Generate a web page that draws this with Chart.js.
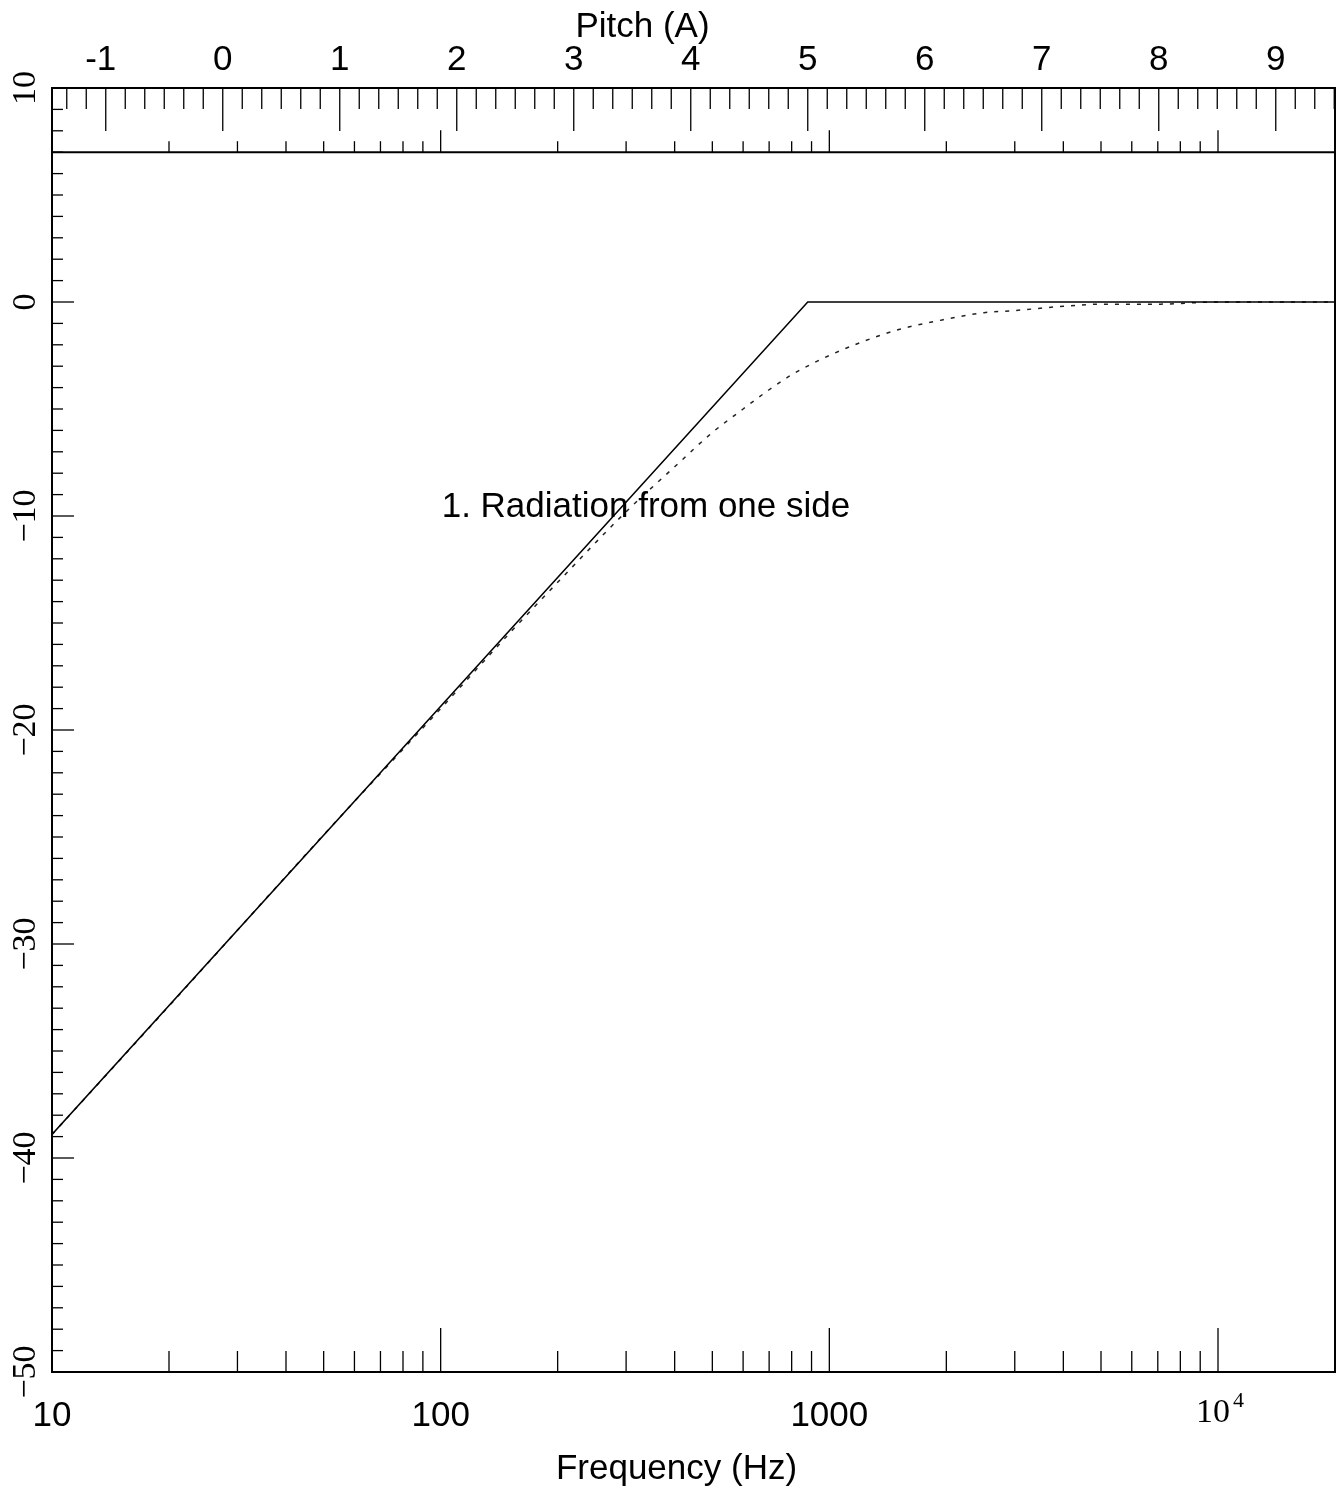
<!DOCTYPE html>
<html>
<head>
<meta charset="utf-8">
<script src="https://cdn.jsdelivr.net/npm/chart.js@4.4.0/dist/chart.umd.min.js"></script>
<style>
  body { margin: 0; background: #fff; }
  canvas { display: block; }
</style>
</head>
<body>
<canvas id="radChart" width="1343" height="1490"></canvas>
<script>
// asymptotic response (solid) and actual response (dotted), dB vs Hz
const freqAsym = [10, 880, 20000];
const levelAsym = [-38.9, 0, 0];
const freqSmooth = [10, 20, 50, 100, 150, 200, 300, 400, 500, 600, 700, 800, 900, 1000, 1200, 1500, 2000, 2500, 3000, 4000, 5000, 7000, 10000, 20000];
const levelSmooth = [-38.9, -32.9, -24.9, -19.0, -15.5, -13.1, -9.8, -7.7, -6.1, -5.0, -4.1, -3.4, -2.9, -2.5, -1.9, -1.3, -0.8, -0.5, -0.4, -0.2, -0.1, -0.1, 0, 0];

// axis ticks
const freqMajor = [10, 100, 1000, 10000];
const freqMinor = [20, 30, 40, 50, 60, 70, 80, 90, 200, 300, 400, 500, 600, 700, 800, 900, 2000, 3000, 4000, 5000, 6000, 7000, 8000, 9000];
const freqLabels = ['10', '100', '1000'];
const yTicks = [-50, -40, -30, -20, -10, 0, 10];
const pitchTicks = [-1, 0, 1, 2, 3, 4, 5, 6, 7, 8, 9];
const bandTop = 7;   // level of the line under the pitch ruler
const noteText = '1. Radiation from one side';

const toPts = (xs, ys) => xs.map((f, i) => ({x: f, y: ys[i]}));
const SANS = '"Liberation Sans", Arial, sans-serif';
const SERIF = '"Liberation Serif", "Times New Roman", serif';

const framePlugin = {
    id: 'framePlugin',
    afterDatasetsDraw(chart) {
        const {ctx, chartArea: a, scales} = chart;
        const x = scales.x, y = scales.y, xp = scales.xp;
        const line = (x1, y1, x2, y2) => {
            ctx.beginPath(); ctx.moveTo(x1, y1); ctx.lineTo(x2, y2); ctx.stroke();
        };
        ctx.save();
        ctx.strokeStyle = '#000';
        ctx.lineWidth = 1.3;

        // left axis ticks, every 1 dB
        for (let v = y.min; v <= y.max; v++) {
            const py = y.getPixelForValue(v);
            line(a.left, py, a.left + (v % 10 === 0 ? 22 : 11), py);
        }

        // pitch ruler: whole tones + octaves
        for (let s = Math.ceil(xp.min * 6); s <= xp.max * 6; s++) {
            const px = xp.getPixelForValue(s / 6);
            line(px, a.top, px, a.top + (s % 6 === 0 ? 43 : 21));
        }

        // frequency ticks, under the ruler and on the bottom
        const yb = y.getPixelForValue(bandTop);
        freqMinor.forEach(f => {
            const px = x.getPixelForValue(f);
            line(px, yb, px, yb - 11);
            line(px, a.bottom, px, a.bottom - 21);
        });
        freqMajor.forEach(f => {
            const px = x.getPixelForValue(f);
            line(px, yb, px, yb - 22);
            line(px, a.bottom, px, a.bottom - 44);
        });

        ctx.lineWidth = 2;
        line(a.left, yb, a.right, yb);
        ctx.strokeRect(a.left, a.top, a.width, a.height);

        // labels
        ctx.fillStyle = '#000';
        ctx.font = '34px ' + SERIF;
        ctx.textAlign = 'center';
        ctx.textBaseline = 'alphabetic';
        yTicks.forEach(v => {
            ctx.save();
            ctx.translate(35, y.getPixelForValue(v));
            ctx.rotate(-Math.PI / 2);
            ctx.fillText(v < 0 ? '\u2212' + Math.abs(v) : String(v), 0, 0);
            ctx.restore();
        });

        ctx.font = '35px ' + SANS;
        freqLabels.forEach((t, i) => {
            ctx.fillText(t, x.getPixelForValue(freqMajor[i]), 1426);
        });
        // 10^4 in serif with superscript
        const p4 = x.getPixelForValue(freqMajor[3]);
        ctx.font = '34px ' + SERIF;
        ctx.textAlign = 'right';
        ctx.fillText('10', p4 + 12, 1422);
        ctx.font = '22px ' + SERIF;
        ctx.textAlign = 'left';
        ctx.fillText('4', p4 + 15, 1407);

        ctx.font = '35px ' + SANS;
        ctx.textAlign = 'center';
        pitchTicks.forEach(p => {
            ctx.fillText(String(p), xp.getPixelForValue(p) - (p < 0 ? 5 : 0), 70);
        });

        ctx.fillText('Frequency (Hz)', (a.left + a.right) / 2 - 17, 1479);
        ctx.fillText('Pitch (A)', (a.left + a.right) / 2 - 51, 37);

        ctx.textAlign = 'left';
        ctx.fillText(noteText, x.getPixelForValue(100) + 1, y.getPixelForValue(-10) + 1);
        ctx.restore();
    }
};

const ctx = document.getElementById('radChart').getContext('2d');
const radChart = new Chart(ctx, {
    type: 'scatter',
    data: {
        datasets: [
            {
                data: toPts(freqAsym, levelAsym),
                showLine: true,
                borderColor: '#000',
                borderWidth: 1.5,
                pointRadius: 0
            },
            {
                data: toPts(freqSmooth, levelSmooth),
                showLine: true,
                borderColor: '#222',
                borderWidth: 1.5,
                borderDash: [4, 7],
                cubicInterpolationMode: 'monotone',
                pointRadius: 0
            }
        ]
    },
    options: {
        responsive: false,
        animation: false,
        layout: { padding: { left: 52, top: 88, right: 8, bottom: 118 } },
        plugins: { legend: { display: false }, tooltip: { enabled: false } },
        scales: {
            x: { type: 'logarithmic', min: 10, max: 20000, display: false },
            y: { type: 'linear', min: -50, max: 10, display: false },
            xp: { type: 'linear', position: 'top', min: Math.log2(10 / 27.5), max: Math.log2(20000 / 27.5), display: false }
        }
    },
    plugins: [framePlugin]
});
</script>
</body>
</html>
